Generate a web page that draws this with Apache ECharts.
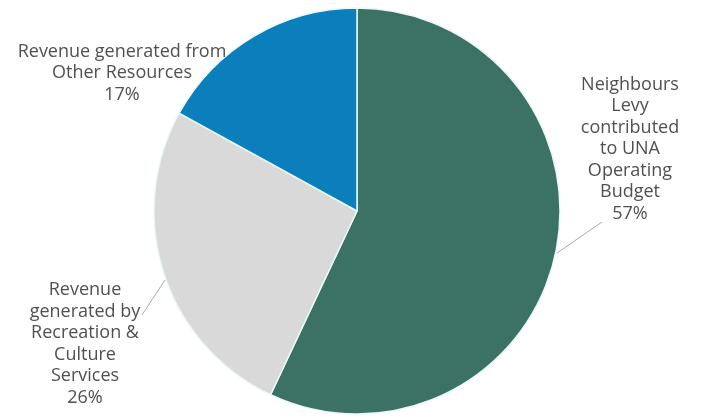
<!DOCTYPE html>
<html>
<head>
<meta charset="utf-8">
<script src="https://cdn.jsdelivr.net/npm/echarts@6/dist/echarts.min.js"></script>
<style>html,body{margin:0;padding:0;background:#fff;}#c{width:704px;height:419px;}</style>
</head>
<body>
<div id="c"></div>
<script>
const categories = [
  'Neighbours\nLevy\ncontributed\nto UNA\nOperating\nBudget',
  'Revenue\ngenerated by\nRecreation &\nCulture\nServices',
  'Revenue generated from\nOther Resources'
];
const values = [57, 26, 17];
const colors = ['#3b7264', '#d9d9d9', '#0a7fbb'];

// label placement (styling only)
const labelPos = [
  {x: 630, y: 149, line: [[557, 253], [602, 222]]},
  {x: 85, y: 344, line: [[165, 280], [142, 315]]},
  {x: 122, y: 73, line: null}
];

const chart = echarts.init(document.getElementById('c'));
chart.setOption({
  animation: false,
  series: [{
    type: 'pie',
    center: [357, 211],
    radius: 203,
    startAngle: 90,
    clockwise: true,
    itemStyle: {borderColor: '#eaf8f8', borderWidth: 1.5},
    label: {
      show: true,
      formatter: p => p.name + '\n' + p.value + '%',
      fontFamily: 'Open Sans',
      fontSize: 18,
      lineHeight: 21.5,
      color: '#505050',
      align: 'center',
      overflow: 'none',
      width: 300
    },
    labelLine: {show: true, lineStyle: {color: '#aaa', width: 1}},
    labelLayout: function (params) {
      const lp = labelPos[params.dataIndex];
      const o = {x: lp.x, y: lp.y, align: 'center', verticalAlign: 'middle'};
      if (lp.line) o.labelLinePoints = [lp.line[0], lp.line[1], lp.line[1]];
      return o;
    },
    data: values.map((v, i) => ({
      value: v,
      name: categories[i],
      itemStyle: {color: colors[i]},
      labelLine: {show: labelPos[i].line !== null}
    }))
  }]
});
</script>
</body>
</html>
